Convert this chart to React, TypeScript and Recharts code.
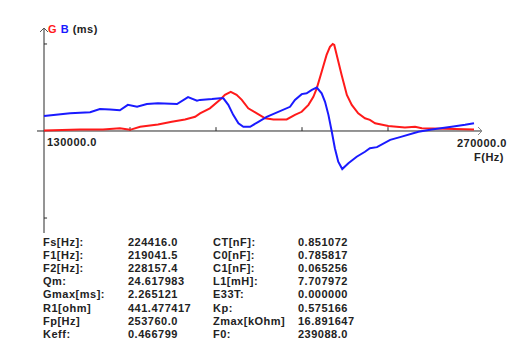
import { LineChart, Line, XAxis, YAxis, ReferenceLine, ReferenceDot } from "recharts";

// conductance G and susceptance B (ms) vs frequency (Hz)
const gFreq = [
  130000, 141700, 149200, 154700, 158000, 161300, 167100, 171600, 175900, 179200,
  180800, 184000, 187300, 188900, 190800, 192700, 194400, 196500, 199300, 202000,
  204700, 209000, 211700, 213900, 216100, 217700, 218800, 220400, 222000, 223100,
  224000, 224500, 225300, 226900, 228600, 230200, 232300, 234500, 236100, 237800,
  242100, 247500, 250800, 253000, 263800, 270000,
];
const gVals = [
  0.01, 0.04, 0.04, 0.07, 0.03, 0.11, 0.17, 0.24, 0.3, 0.37,
  0.46, 0.59, 0.81, 0.94, 1.02, 0.94, 0.81, 0.59, 0.46, 0.33,
  0.3, 0.3, 0.42, 0.5, 0.68, 0.89, 1.11, 1.54, 1.98, 2.19,
  2.265, 2.24, 1.98, 1.46, 0.94, 0.68, 0.46, 0.33, 0.29, 0.2,
  0.13, 0.09, 0.11, 0.07, 0.05, 0.04,
];
const bFreq = [
  130000, 138500, 145000, 148200, 151500, 154700, 157300, 160300, 163500, 167100,
  173300, 176900, 179800, 180800, 184700, 187300, 188400, 190000, 191600, 193300,
  194900, 197100, 199800, 202500, 210100, 211700, 213900, 215500, 217200, 218800,
  220400, 221500, 222600, 223700, 224700, 225800, 227100, 229100, 231800, 234500,
  236100, 238400, 242700, 245900, 251900, 256200, 262700, 267100, 270000,
];
const bVals = [
  0.39, 0.46, 0.49, 0.57, 0.56, 0.54, 0.68, 0.63, 0.7, 0.72,
  0.7, 0.88, 0.79, 0.81, 0.83, 0.85, 0.85, 0.68, 0.42, 0.2,
  0.11, 0.11, 0.24, 0.37, 0.63, 0.81, 0.96, 0.98, 1.07, 1.13,
  0.98, 0.76, 0.42, -0.02, -0.45, -0.8, -0.99, -0.84, -0.67, -0.54,
  -0.45, -0.42, -0.23, -0.16, -0.02, 0.04, 0.11, 0.16, 0.2,
];
const xTicks = [158000, 186000, 214000, 242000];
const yTicks = [2.265, -2.265];

const rows = [
  ["Fs[Hz]:", "224416.0", "CT[nF]:", "0.851072"],
  ["F1[Hz]:", "219041.5", "C0[nF]:", "0.785817"],
  ["F2[Hz]:", "228157.4", "C1[nF]:", "0.065256"],
  ["Qm:", "24.617983", "L1[mH]:", "7.707972"],
  ["Gmax[ms]:", "2.265121", "E33T:", "0.000000"],
  ["R1[ohm]", "441.477417", "Kp:", "0.575166"],
  ["Fp[Hz]", "253760.0", "Zmax[kOhm]", "16.891647"],
  ["Keff:", "0.466799", "F0:", "239088.0"],
];

const gData = gFreq.map((f, i) => ({ f, v: gVals[i] }));
const bData = bFreq.map((f, i) => ({ f, v: bVals[i] }));

const AXIS = "#2a2a2a";
const font: React.CSSProperties = {
  fontFamily: "'Liberation Sans', Arial, sans-serif",
  fontWeight: "bold",
  fontSize: 11,
  letterSpacing: 0.5,
  color: "#222",
  position: "absolute",
  whiteSpace: "nowrap",
  lineHeight: "13px",
};

const UpArrow = (p: any) => (
  <path d={`M${p.cx - 4},${p.cy + 4} L${p.cx},${p.cy} L${p.cx + 4},${p.cy + 4}`} stroke="#555" fill="none" />
);
const RightArrow = (p: any) => (
  <path d={`M${p.cx - 4},${p.cy - 4} L${p.cx},${p.cy} L${p.cx - 4},${p.cy + 4}`} stroke="#888" fill="none" />
);

export default function App() {
  const cols = [43, 128, 213, 298];
  return (
    <div style={{ position: "fixed", left: 0, top: 0, width: 531, height: 356, background: "#fff" }}>
      <LineChart width={531} height={356} data={gData} margin={{ top: 28, right: 49, bottom: 123, left: 37 }}>
        <XAxis dataKey="f" type="number" domain={[127720, 272600]} hide allowDataOverflow />
        <YAxis type="number" domain={[-2.655, 2.681]} hide allowDataOverflow />
        <ReferenceLine y={0} stroke={AXIS} strokeWidth={1} />
        <ReferenceLine x={130000} stroke={AXIS} strokeWidth={1} />
        {xTicks.map((t) => (
          <ReferenceLine key={t} segment={[{ x: t, y: 0 }, { x: t, y: 0.1 }]} stroke={AXIS} ifOverflow="visible" />
        ))}
        {yTicks.map((t) => (
          <ReferenceLine key={t} segment={[{ x: 130000, y: t }, { x: 131000, y: t }]} stroke={AXIS} ifOverflow="visible" />
        ))}
        <ReferenceDot x={130000} y={2.681} shape={UpArrow} ifOverflow="visible" />
        <ReferenceDot x={272600} y={0} shape={RightArrow} ifOverflow="visible" />
        <Line data={gData} dataKey="v" stroke="#ff1a1a" strokeWidth={2} dot={false} isAnimationActive={false} type="linear" />
        <Line data={bData} dataKey="v" stroke="#1a1aff" strokeWidth={2} dot={false} isAnimationActive={false} type="linear" />
      </LineChart>
      <div style={{ ...font, left: 48, top: 23 }}>
        <span style={{ color: "#ff1a1a" }}>G</span> <span style={{ color: "#1a1aff" }}>B</span> (ms)
      </div>
      <div style={{ ...font, left: 47, top: 136 }}>130000.0</div>
      <div style={{ ...font, left: 457, top: 137 }}>270000.0</div>
      <div style={{ ...font, left: 474, top: 151 }}>F(Hz)</div>
      {rows.map((r, i) =>
        r.map((c, j) => (
          <div key={`${i}-${j}`} style={{ ...font, left: cols[j], top: 235.5 + i * 13.2 }}>
            {c}
          </div>
        ))
      )}
    </div>
  );
}
